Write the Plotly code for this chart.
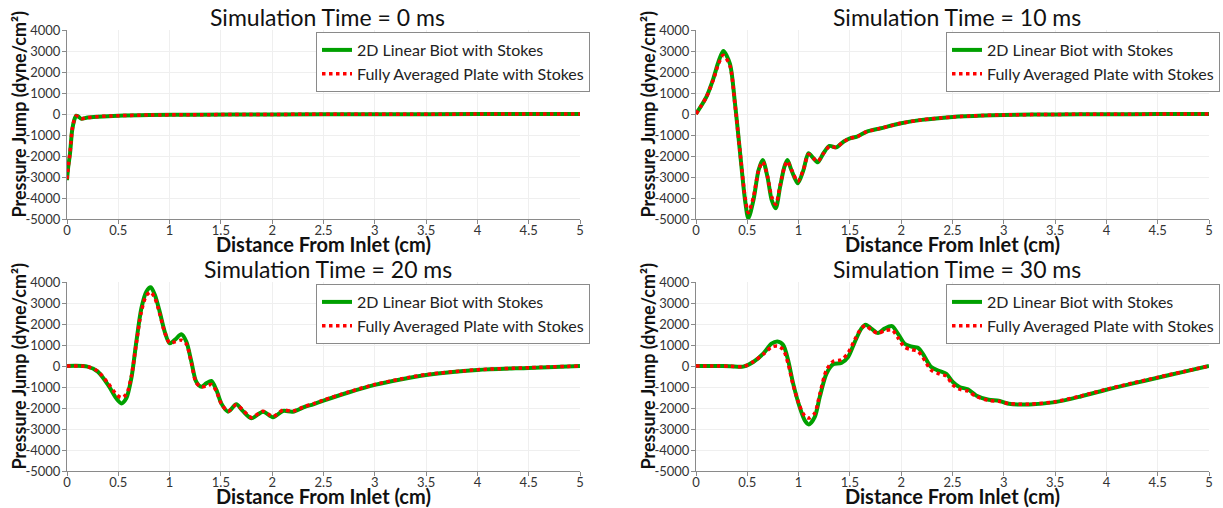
import plotly.graph_objects as go

W, H = 1223, 508

# ---------------- data ----------------
panel_titles = ["Simulation Time = 0 ms", "Simulation Time = 10 ms",
                "Simulation Time = 20 ms", "Simulation Time = 30 ms"]
series_names = ["2D Linear Biot with Stokes", "Fully Averaged Plate with Stokes"]

x_ticks = [0, 0.5, 1, 1.5, 2, 2.5, 3, 3.5, 4, 4.5, 5]
x_tick_labels = ["0", "0.5", "1", "1.5", "2", "2.5", "3", "3.5", "4", "4.5", "5"]
y_ticks = [-5000, -4000, -3000, -2000, -1000, 0, 1000, 2000, 3000, 4000]
y_tick_labels = ["-5000", "-4000", "-3000", "-2000", "-1000", "0", "1000", "2000", "3000", "4000"]

# t = 0 ms
x_t0 = [0, 0.01, 0.03, 0.05, 0.07, 0.09, 0.11, 0.14, 0.2, 0.3, 0.5, 0.8, 1.2, 2, 3, 4, 5]
biot_t0 = [-3150, -2600, -1850, -780, -300, -80, -120, -230, -170, -130, -80, -50, -35, -20, -10, -5, 0]
plate_t0 = [-3100, -2600, -1800, -750, -290, -90, -130, -220, -170, -125, -80, -50, -35, -20, -10, -5, 0]

# t = 10 ms
x_t10 = [0, 0.1, 0.17, 0.22, 0.266, 0.33, 0.38, 0.43, 0.478, 0.51, 0.56, 0.61, 0.65, 0.696,
         0.738, 0.777, 0.82, 0.86, 0.891, 0.93, 0.992, 1.047, 1.096, 1.145, 1.187, 1.242, 1.30,
         1.366, 1.437, 1.50, 1.57, 1.665, 1.80, 2.0, 2.2, 2.5, 2.8, 3.0, 3.5, 4.0, 4.5, 5.0]
biot_t10 = [0, 800, 1700, 2500, 3000, 2400, 500, -1870, -4100, -4970, -4100, -2670, -2190, -2980,
            -4100, -4490, -3460, -2540, -2190, -2670, -3300, -2670, -1870, -2110, -2300, -1870, -1520,
            -1590, -1320, -1160, -1080, -840, -680, -440, -280, -140, -70, -45, -20, -10, -5, 0]
plate_t10 = [0, 800, 1650, 2400, 2800, 2300, 450, -1850, -3950, -4700, -3950, -2700, -2280, -2950,
             -3950, -4300, -3400, -2560, -2250, -2650, -3200, -2650, -1920, -2120, -2250, -1880, -1550,
             -1580, -1330, -1160, -1080, -840, -680, -440, -280, -140, -70, -45, -20, -10, -5, 0]

# t = 20 ms
x_t20 = [0, 0.2, 0.3, 0.4, 0.48, 0.53, 0.578, 0.627, 0.676, 0.725, 0.773, 0.816, 0.855, 0.903,
         0.952, 1.0, 1.05, 1.115, 1.163, 1.212, 1.26, 1.31, 1.358, 1.407, 1.456, 1.504, 1.57, 1.65,
         1.715, 1.797, 1.91, 2.008, 2.105, 2.2, 2.32, 2.4, 2.5, 2.75, 3.0, 3.25, 3.5, 4.0, 4.5, 5.0]
biot_t20 = [0, -30, -270, -900, -1540, -1780, -1540, -590, 1160, 2750, 3540, 3750, 3400, 2590,
            1640, 1080, 1240, 1510, 1160, 210, -750, -985, -825, -715, -1140, -1780, -2175, -1825,
            -2150, -2490, -2175, -2440, -2140, -2175, -1940, -1825, -1650, -1250, -900, -640, -430, -190, -90, 0]
plate_t20 = [0, -30, -250, -820, -1350, -1500, -1350, -500, 1100, 2600, 3350, 3520, 3250, 2500,
             1600, 1100, 1150, 1230, 1050, 150, -800, -1000, -950, -880, -1200, -1800, -2150, -1850,
             -2100, -2450, -2150, -2400, -2100, -2150, -1920, -1800, -1620, -1230, -880, -620, -410, -180, -80, 0]

# t = 30 ms
x_t30 = [0, 0.2, 0.33, 0.46, 0.558, 0.655, 0.736, 0.794, 0.85, 0.898, 0.947, 1.01, 1.06, 1.1,
         1.157, 1.206, 1.271, 1.336, 1.417, 1.482, 1.547, 1.611, 1.654, 1.709, 1.774, 1.838, 1.91,
         1.968, 2.033, 2.098, 2.163, 2.21, 2.293, 2.374, 2.44, 2.503, 2.568, 2.65, 2.73, 2.853, 2.95,
         3.05, 3.25, 3.5, 3.75, 4.0, 4.25, 4.5, 4.75, 5.0]
biot_t30 = [0, 0, -10, -30, 190, 590, 1060, 1170, 1000, 270, -840, -1950, -2590, -2780,
            -2430, -1480, -370, 80, 140, 430, 1140, 1780, 1970, 1780, 1570, 1780, 1900,
            1540, 1060, 930, 870, 590, -50, -240, -370, -760, -1000, -1110, -1400, -1610, -1650,
            -1800, -1830, -1720, -1450, -1130, -840, -560, -280, 0]
plate_t30 = [0, 0, -10, -30, 200, 560, 900, 950, 780, 100, -900, -1900, -2380, -2480,
             -2250, -1350, -200, 220, 300, 620, 1250, 1800, 1920, 1720, 1560, 1680, 1720,
             1350, 900, 780, 700, 420, -200, -380, -480, -900, -1100, -1200, -1450, -1640, -1680,
             -1790, -1820, -1700, -1430, -1110, -820, -540, -270, 0]

panels = [(x_t0, biot_t0, plate_t0), (x_t10, biot_t10, plate_t10),
          (x_t20, biot_t20, plate_t20), (x_t30, biot_t30, plate_t30)]

# ---------------- layout geometry (pixels) ----------------
plot_boxes = [  # left, right, top, bottom
    (67, 580, 30, 219), (696, 1209, 30, 219),
    (67, 580, 282, 471), (696, 1209, 282, 471),
]
legend_boxes = [(590, 32), (1220, 32), (590, 284), (1220, 284)]  # right, top

GREEN = "#00a000"
RED = "#ff0000"
FONT = "Lato"

fig = go.Figure()
layout = dict(
    width=W, height=H,
    margin=dict(l=0, r=0, t=0, b=0, autoexpand=False),
    paper_bgcolor="white", plot_bgcolor="white",
    font=dict(family=FONT, color="#222"),
    showlegend=True,
    annotations=[],
)

for i, ((xs, g, r), (l, rt, t, b)) in enumerate(zip(panels, plot_boxes)):
    k = "" if i == 0 else str(i + 1)
    leg = "legend" if i == 0 else f"legend{i + 1}"
    fig.add_trace(go.Scatter(
        x=xs, y=g, mode="lines", name=series_names[0],
        line=dict(color=GREEN, width=4, shape="spline", smoothing=0.8),
        xaxis="x" + k, yaxis="y" + k, legend=leg,
    ))
    fig.add_trace(go.Scatter(
        x=xs, y=r, mode="lines", name=series_names[1],
        line=dict(color=RED, width=3.5, dash="dot", shape="spline", smoothing=0.8),
        xaxis="x" + k, yaxis="y" + k, legend=leg,
    ))
    axcommon = dict(showline=True, linecolor="#8a8a8a", linewidth=1,
                    ticks="outside", ticklen=4, tickcolor="#8a8a8a",
                    showgrid=True, gridcolor="#efefef", gridwidth=1, zeroline=False,
                    automargin=False,
                    tickfont=dict(family=FONT, size=13, color="#333"))
    layout["xaxis" + k] = dict(
        domain=[l / W, rt / W], range=[0, 5], anchor="y" + k,
        tickmode="array", tickvals=x_ticks, ticktext=x_tick_labels,
        ticklabelstandoff=-5, **axcommon)
    layout["yaxis" + k] = dict(
        domain=[1 - b / H, 1 - t / H], range=[-5000, 4000], anchor="x" + k,
        tickmode="array", tickvals=y_ticks, ticktext=y_tick_labels,
        ticklabelstandoff=-1, **axcommon)
    lr, lt = legend_boxes[i]
    layout[leg] = dict(
        x=lr / W, y=1 - lt / H, xanchor="right", yanchor="top",
        bgcolor="white", bordercolor="#8a8a8a", borderwidth=1,
        font=dict(family=FONT, size=16, color="#222"),
        itemwidth=30, tracegroupgap=0,
    )
    cx = (l + rt) / 2
    layout["annotations"].append(dict(
        text=panel_titles[i], x=(cx + 4) / W, y=1 - (t - 13) / H, xref="paper", yref="paper",
        xanchor="center", yanchor="middle", showarrow=False,
        font=dict(family=FONT, size=23, color="#111")))
    layout["annotations"].append(dict(
        text="Distance From Inlet (cm)", x=cx / W, y=1 - (b + 25) / H, xref="paper", yref="paper",
        xanchor="center", yanchor="middle", showarrow=False,
        font=dict(family=FONT, size=20, color="#111", weight="bold")))
    layout["annotations"].append(dict(
        text="Pressure Jump (dyne/cm²)", x=(l - 49) / W, y=1 - ((t + b) / 2 - 10) / H,
        xref="paper", yref="paper", textangle=-90,
        xanchor="center", yanchor="middle", showarrow=False,
        font=dict(family=FONT, size=18, color="#111", weight="bold")))

fig.update_layout(**layout)
fig.write_html(
    "out.html",
    config={"displayModeBar": False},
    post_script="document.body.style.margin='0';document.body.style.overflow='hidden';",
)
